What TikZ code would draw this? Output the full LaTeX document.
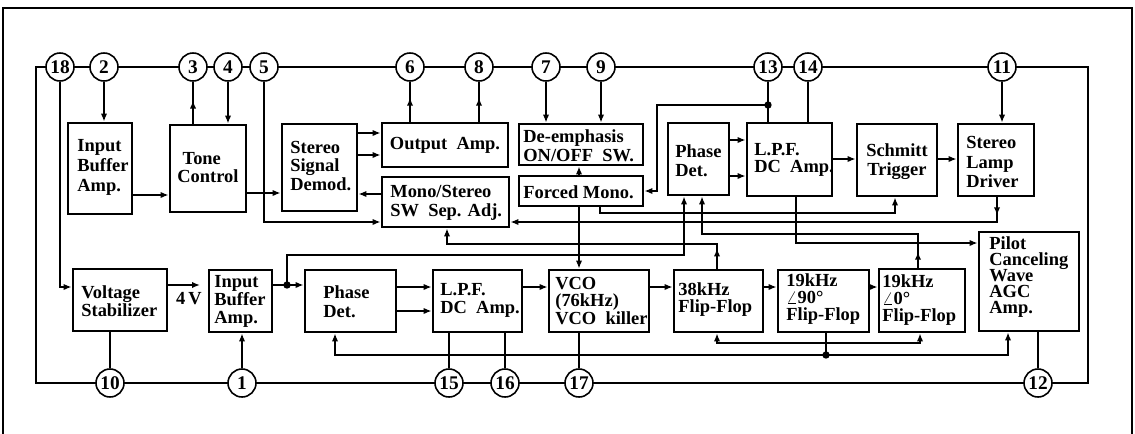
\documentclass[tikz,border=0pt]{standalone}
\usepackage{fontspec}
\setmainfont{Liberation Serif}
\usetikzlibrary{fit,arrows.meta,decorations.markings}
\lineskiplimit=-100pt
\begin{document}
\begin{tikzpicture}[x=0.02cm,y=-0.02cm,
  blk/.style={draw, line width=1.6pt, inner sep=0pt},
  pin/.style={circle, draw, fill=white, line width=0.9pt, minimum size=0.56cm, inner sep=0pt, font=\fontsize{11}{11}\selectfont\bfseries},
  wire/.style={line width=0.9pt},
  arr/.style={wire, -{Latex[length=4.5pt,width=3.6pt]}},
  bus/.style={line width=1.5pt},
  lbl/.style={anchor=west, align=left, inner sep=0pt, font=\fontsize{10.5}{#1}\selectfont\bfseries},
  lbl/.default=10.8,
  clbl/.style={align=center, inner sep=0pt, font=\fontsize{10.5}{#1}\selectfont\bfseries},
  clbl/.default=10.8,
  midarr/.style={postaction={decorate}, decoration={markings, mark=at position #1 with {\arrow{Latex[length=4.5pt,width=3.6pt]}}}},
  jdot/.style={circle, fill, inner sep=0pt, minimum size=4.2pt}
]
\useasboundingbox (0,0) rectangle (1135,433);
% page frame
\draw[line width=0.6pt] (3,440) -- (3,8) -- (1132,8) -- (1132,440);
% bus
\draw[bus] (36,67) rectangle (1088,383);
% pins top
\node[pin] (p18) at (60,67) {18};
\node[pin] (p2) at (104,67) {2};
\node[pin] (p3) at (193,67) {3};
\node[pin] (p4) at (228,67) {4};
\node[pin] (p5) at (264,67) {5};
\node[pin] (p6) at (410,67) {6};
\node[pin] (p8) at (479,67) {8};
\node[pin] (p7) at (546,67) {7};
\node[pin] (p9) at (601,67) {9};
\node[pin] (p13) at (768,67) {13};
\node[pin] (p14) at (808,67) {14};
\node[pin] (p11) at (1002,67) {11};
% pins bottom
\node[pin] (p10) at (110,383) {10};
\node[pin] (p1) at (242,383) {1};
\node[pin] (p15) at (449,383) {15};
\node[pin] (p16) at (505,383) {16};
\node[pin] (p17) at (579,383) {17};
\node[pin] (p12) at (1038,383) {12};
% boxes
\node[blk, fit={(68,123) (132,214)}] (iba1) {};
\node[blk, fit={(170,125) (246,212)}] (tone) {};
\node[blk, fit={(282,124) (357,211)}] (demod) {};
\node[blk, fit={(382,123) (508,167)}] (outamp) {};
\node[blk, fit={(382,177) (509,227)}] (mono) {};
\node[blk, fit={(519,124) (643,165)}] (deemph) {};
\node[blk, fit={(519,176) (643,206)}] (forced) {};
\node[blk, fit={(668,123) (729,195)}] (pd1) {};
\node[blk, fit={(747,123) (832,196)}] (lpf1) {};
\node[blk, fit={(857,124) (937,196)}] (schmitt) {};
\node[blk, fit={(958,124) (1034,196)}] (lamp) {};
\node[blk, fit={(979,232) (1079,331)}] (pilot) {};
\node[blk, fit={(73,269) (167,331)}] (vs) {};
\node[blk, fit={(209,270) (272,332)}] (iba2) {};
\node[blk, fit={(305,270) (396,332)}] (pd2) {};
\node[blk, fit={(433,270) (522,332)}] (lpf2) {};
\node[blk, fit={(549,270) (649,332)}] (vco) {};
\node[blk, fit={(674,270) (763,332)}] (ff38) {};
\node[blk, fit={(778,270) (869,332)}] (ff90) {};
\node[blk, fit={(879,269) (965,332)}] (ff0) {};
% texts
\node[lbl=11.4] (t-iba1) at (77,167) {Input\\Buffer\\Amp.};
\node[lbl=10.2] (t-tone) at (177,168) {\hspace*{3pt}Tone\\Control};
\node[lbl=10.8] (t-demod) at (290,166) {Stereo\\Signal\\Demod.};
\node[clbl] (t-outamp) at (445,145) {Output\enspace Amp.};
\node[lbl=10.8] (t-mono) at (390,203) {Mono/Stereo\\SW\enspace Sep. Adj.};
\node[lbl=10.8] (t-deemph) at (523,146) {De-emphasis\\ON/OFF\enspace SW.};
\node[lbl] (t-forced) at (523,192) {Forced Mono.};
\node[lbl=10.8] (t-pd1) at (675,161) {Phase\\Det.};
\node[lbl=9.7] (t-lpf1) at (754,160) {L.P.F.\\DC\enspace Amp.};
\node[clbl=10.8] (t-schmitt) at (897,162) {Schmitt\\Trigger};
\node[lbl=11] (t-lamp) at (966,162) {Stereo\\Lamp\\Driver};
\node[lbl=9.2] (t-pilot) at (989,277) {Pilot\\Canceling\\Wave\\AGC\\Amp.};
\node[lbl=10.2] (t-vs) at (81,301) {Voltage\\Stabilizer};
\node[lbl=10.2] (t-iba2) at (214,301) {Input\\Buffer\\Amp.};
\node[lbl=10.8] (t-pd2) at (323,302) {Phase\\Det.};
\node[lbl=10.2] (t-lpf2) at (440,300) {L.P.F.\\DC\enspace Amp.};
\node[lbl=10.2] (t-vco) at (555,301) {VCO\\(76kHz)\\VCO\enspace killer};
\node[lbl=9.7] (t-ff38) at (678,300) {38kHz\\Flip-Flop};
\node[lbl=9.9] (t-ff90) at (786,299) {19kHz\\$\angle$90°\\Flip-Flop};
\node[lbl=9.7] (t-ff0) at (882,300) {19kHz\\$\angle$0°\\Flip-Flop};
% junctions
\coordinate (j13) at (768,105);
\coordinate (j1) at (287,285);
\coordinate (j2) at (826,355);
\coordinate (j3) at (826,343);
\coordinate (v4) at (200,285);
\node[jdot] at (j13) {};
\node[jdot] at (j1) {};
\node[jdot] at (j2) {};
% wires top
\draw[arr] (p18.south) |- (vs.west |- 0,287);
\draw[arr] (p2.south) -- (p2 |- iba1.north);
\draw[arr] (iba1.east |- 0,195) -- (tone.west |- 0,195);
\draw[wire, midarr=0.55] (tone.north -| p3) -- (p3.south);
\draw[arr] (p4.south) -- (p4 |- tone.north);
\draw[arr] (tone.east |- 0,193) -- (demod.west |- 0,193);
\draw[arr] (p5.south) |- (mono.west |- 0,222);
\draw[arr] (demod.east |- 0,133) -- (outamp.west |- 0,133);
\draw[arr] (demod.east |- 0,155) -- (outamp.west |- 0,155);
\draw[arr] (mono.west |- 0,194) -- (demod.east |- 0,194);
\draw[wire, midarr=0.6] (outamp.north -| p6) -- (p6.south);
\draw[wire, midarr=0.6] (outamp.north -| p8) -- (p8.south);
\draw[arr] (p7.south) -- (p7 |- deemph.north);
\draw[arr] (p9.south) -- (p9 |- deemph.north);
\draw[arr] (forced.north -| p17) -- (deemph.south -| p17);
\draw[arr] (forced.south -| p17) -- (vco.north -| p17);
\draw[wire] (p13.south) -- (p13 |- lpf1.north);
\draw[arr] (j13) -| (657,191) -- (forced.east |- 0,191);
\draw[wire] (p14.south) -- (p14 |- lpf1.north);
\draw[arr] (pd1.east |- 0,140) -- (lpf1.west |- 0,140);
\draw[arr] (pd1.east |- 0,176) -- (lpf1.west |- 0,176);
\draw[arr] (lpf1.east |- 0,159) -- (schmitt.west |- 0,159);
\draw[arr] (schmitt.east |- 0,159) -- (lamp.west |- 0,159);
\draw[arr] (p11.south) -- (p11 |- lamp.north);
\draw[arr] (forced.south -| 600,0) |- (895,213) -- (schmitt.south -| 895,0);
\draw[arr, midarr=0.035] (lamp.south -| 997,0) |- (mono.east |- 0,222);
\draw[arr, midarr=0.065] (ff38.north -| 717,0) |- (447,244) -- (mono.south -| 447,0);
\draw[wire] (iba2.east |- 0,285) -- (j1);
\draw[arr] (j1) -- (pd2.west |- 0,285);
\draw[arr] (j1) |- (684,255) -- (pd1.south -| 684,0);
\draw[arr, midarr=0.055] (ff0.north -| 918,0) |- (702,234) -- (pd1.south -| 702,0);
\draw[arr] (lpf1.south -| 796,0) |- (pilot.west |- 0,243);
% wires bottom
\draw[arr] (vs.east |- 0,285) -- (v4);
\node[font=\fontsize{10.5}{11}\selectfont\bfseries, inner sep=0pt] (t4v) at (189,299) {4\,V};
\draw[arr] (pd2.east |- 0,287) -- (lpf2.west |- 0,287);
\draw[arr] (pd2.east |- 0,311) -- (lpf2.west |- 0,311);
\draw[arr] (lpf2.east |- 0,287) -- (vco.west |- 0,287);
\draw[arr] (vco.east |- 0,287) -- (ff38.west |- 0,287);
\draw[arr] (ff38.east |- 0,287) -- (ff90.west |- 0,287);
\draw[arr] (ff90.east |- 0,287) -- (ff0.west |- 0,287);
\draw[wire] (lpf2.south -| p15) -- (p15.north);
\draw[wire] (lpf2.south -| p16) -- (p16.north);
\draw[wire] (vs.south -| p10) -- (p10.north);
\draw[arr] (p1.north) -- (iba2.south -| p1);
\draw[wire] (vco.south -| p17) -- (p17.north);
\draw[wire] (pilot.south -| p12) -- (p12.north);
\draw[wire] (ff90.south -| j2) -- (j2);
\draw[arr] (j2) -| (pd2.south -| 335,0);
\draw[arr] (j2) -| (pilot.south -| 1008,0);
\draw[arr] (j3) -| (ff38.south -| 717,0);
\draw[arr] (j3) -| (ff0.south -| 920,0);
\end{tikzpicture}
\end{document}
